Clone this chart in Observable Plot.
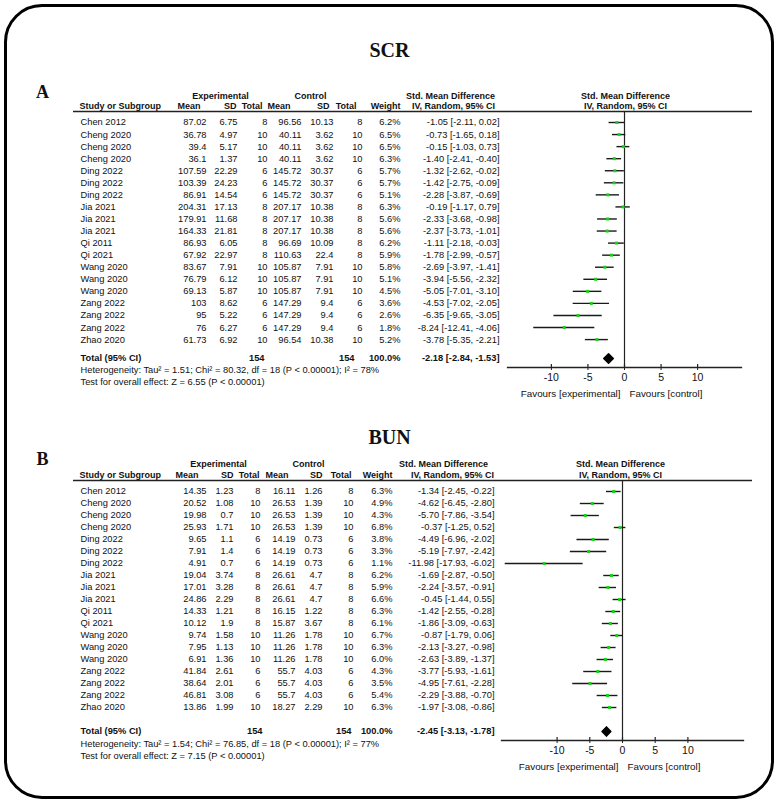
<!DOCTYPE html>
<html><head><meta charset="utf-8">
<script src="https://cdn.jsdelivr.net/npm/d3@7"></script>
<script src="https://cdn.jsdelivr.net/npm/@observablehq/plot@0.6"></script>
<style>
body{margin:0;background:#fff;width:778px;height:803px;overflow:hidden;position:relative;font-family:"Liberation Sans",Arial,sans-serif;}
#frame{position:absolute;left:4px;top:4px;width:764px;height:789px;border:3px solid #000;border-radius:38px;pointer-events:none;}
.panel{position:absolute;left:0;}
.panel svg{display:block;}
</style></head><body>
<div id="pA" class="panel" style="top:0px"></div>
<div id="pB" class="panel" style="top:400px"></div>
<div id="frame"></div>
<script>
// ---------- SCR (panel A) ----------
const studiesA = ["Chen 2012","Cheng 2020","Cheng 2020","Cheng 2020","Ding 2022","Ding 2022","Ding 2022","Jia 2021","Jia 2021","Jia 2021","Qi 2011","Qi 2021","Wang 2020","Wang 2020","Wang 2020","Zang 2022","Zang 2022","Zang 2022","Zhao 2020"];
const expMeanA = [87.02,36.78,39.4,36.1,107.59,103.39,86.91,204.31,179.91,164.33,86.93,67.92,83.67,76.79,69.13,103,95,76,61.73];
const expSDA   = [6.75,4.97,5.17,1.37,22.29,24.23,14.54,17.13,11.68,21.81,6.05,22.97,7.91,6.12,5.87,8.62,5.22,6.27,6.92];
const expNA    = [8,10,10,10,6,6,6,8,8,8,8,8,10,10,10,6,6,6,10];
const ctlMeanA = [96.56,40.11,40.11,40.11,145.72,145.72,145.72,207.17,207.17,207.17,96.69,110.63,105.87,105.87,105.87,147.29,147.29,147.29,96.54];
const ctlSDA   = [10.13,3.62,3.62,3.62,30.37,30.37,30.37,10.38,10.38,10.38,10.09,22.4,7.91,7.91,7.91,9.4,9.4,9.4,10.38];
const ctlNA    = [8,10,10,10,6,6,6,8,8,8,8,8,10,10,10,6,6,6,10];
const weightA  = [6.2,6.5,6.5,6.3,5.7,5.7,5.1,6.3,5.6,5.6,6.2,5.9,5.8,5.1,4.5,3.6,2.6,1.8,5.2];
const smdA     = [-1.05,-0.73,-0.15,-1.40,-1.32,-1.42,-2.28,-0.19,-2.33,-2.37,-1.11,-1.78,-2.69,-3.94,-5.05,-4.53,-6.35,-8.24,-3.78];
const lowA     = [-2.11,-1.65,-1.03,-2.41,-2.62,-2.75,-3.87,-1.17,-3.68,-3.73,-2.18,-2.99,-3.97,-5.56,-7.01,-7.02,-9.65,-12.41,-5.35];
const highA    = [0.02,0.18,0.73,-0.40,-0.02,-0.09,-0.69,0.79,-0.98,-1.01,-0.03,-0.57,-1.41,-2.32,-3.10,-2.05,-3.05,-4.06,-2.21];
const totalA   = [-2.18,-2.84,-1.53];
const totalNA  = [154,154];
const totalWA  = 100.0;
const hetA  = "Heterogeneity: Tau\u00b2 = 1.51; Chi\u00b2 = 80.32, df = 18 (P < 0.00001); I\u00b2 = 78%";
const testA = "Test for overall effect: Z = 6.55 (P < 0.00001)";

// ---------- BUN (panel B) ----------
const studiesB = ["Chen 2012","Cheng 2020","Cheng 2020","Cheng 2020","Ding 2022","Ding 2022","Ding 2022","Jia 2021","Jia 2021","Jia 2021","Qi 2011","Qi 2021","Wang 2020","Wang 2020","Wang 2020","Zang 2022","Zang 2022","Zang 2022","Zhao 2020"];
const expMeanB = [14.35,20.52,19.98,25.93,9.65,7.91,4.91,19.04,17.01,24.86,14.33,10.12,9.74,7.95,6.91,41.84,38.64,46.81,13.86];
const expSDB   = [1.23,1.08,0.7,1.71,1.1,1.4,0.7,3.74,3.28,2.29,1.21,1.9,1.58,1.13,1.36,2.61,2.01,3.08,1.99];
const expNB    = [8,10,10,10,6,6,6,8,8,8,8,8,10,10,10,6,6,6,10];
const ctlMeanB = [16.11,26.53,26.53,26.53,14.19,14.19,14.19,26.61,26.61,26.61,16.15,15.87,11.26,11.26,11.26,55.7,55.7,55.7,18.27];
const ctlSDB   = [1.26,1.39,1.39,1.39,0.73,0.73,0.73,4.7,4.7,4.7,1.22,3.67,1.78,1.78,1.78,4.03,4.03,4.03,2.29];
const ctlNB    = [8,10,10,10,6,6,6,8,8,8,8,8,10,10,10,6,6,6,10];
const weightB  = [6.3,4.9,4.3,6.8,3.8,3.3,1.1,6.2,5.9,6.6,6.3,6.1,6.7,6.3,6.0,4.3,3.5,5.4,6.3];
const smdB     = [-1.34,-4.62,-5.70,-0.37,-4.49,-5.19,-11.98,-1.69,-2.24,-0.45,-1.42,-1.86,-0.87,-2.13,-2.63,-3.77,-4.95,-2.29,-1.97];
const lowB     = [-2.45,-6.45,-7.86,-1.25,-6.96,-7.97,-17.93,-2.87,-3.57,-1.44,-2.55,-3.09,-1.79,-3.27,-3.89,-5.93,-7.61,-3.88,-3.08];
const highB    = [-0.22,-2.80,-3.54,0.52,-2.02,-2.42,-6.02,-0.50,-0.91,0.55,-0.28,-0.63,0.06,-0.98,-1.37,-1.61,-2.28,-0.70,-0.86];
const totalB   = [-2.45,-3.13,-1.78];
const totalNB  = [154,154];
const totalWB  = 100.0;
const hetB  = "Heterogeneity: Tau\u00b2 = 1.54; Chi\u00b2 = 76.85, df = 18 (P < 0.00001); I\u00b2 = 77%";
const testB = "Test for overall effect: Z = 7.15 (P < 0.00001)";

const axisTicks = [-10,-5,0,5,10];
const FS = 9.3;
const HFS = 9.0;
const SANS = "Liberation Sans, Arial, sans-serif";
const SERIF = "Liberation Serif, Times New Roman, serif";
const INK = "#111";

function panel(d, L) {
  const n = d.study.length;
  const rows = d3.range(n).map(i => ({i, study: d.study[i], em: d.em[i], es: d.es[i], en: d.en[i],
    cm: d.cm[i], cs: d.cs[i], cn: d.cn[i], w: d.w[i], smd: d.smd[i], lo: d.lo[i], hi: d.hi[i]}));
  const top = L.top;
  const y0 = L.rowTop - top;
  const y1 = y0 + (n - 1) * L.rowStep;
  const ry = px => (px - top - y0) / L.rowStep;   // page pixel -> row units
  const ml = L.x0, mr = 778 - L.x1;
  const c = L.col, h = L.hdr;
  const f2 = v => v.toFixed(2);
  const one = (s, px, ypx, anchor, bold, size, family) => Plot.text([s], {
    text: v => v, y: () => ry(ypx), frameAnchor: "left", dx: px - ml, textAnchor: anchor,
    fontWeight: bold ? "bold" : "normal", fontSize: size || FS, fontFamily: family || SANS, fill: INK});
  const hd = (s, px, ypx, anchor) => one(s, px, ypx, anchor, true, HFS);
  const col = (acc, px, anchor = "end") => Plot.text(rows, {
    y: "i", text: acc, frameAnchor: "left", dx: px - ml, textAnchor: anchor, fontSize: FS, fill: INK});
  const [te, tl, th] = d.total;
  const ty = ry(L.totalY);
  const dh = 4.6 / L.rowStep;
  const diamond = [{x: tl, y: ty}, {x: te, y: ty - dh}, {x: th, y: ty}, {x: te, y: ty + dh}];

  return Plot.plot({
    width: 778, height: L.height,
    marginLeft: ml, marginRight: mr, marginTop: 10, marginBottom: L.height - (L.axisY - top),
    style: {fontFamily: SANS, background: "transparent", color: INK},
    x: {domain: L.xDomain, axis: null},
    y: {type: "linear", domain: [0, n - 1], range: [y0, y1], axis: null},
    marks: [
      one(d.title, 389, L.titleY, "middle", true, 20, SERIF),
      one(d.letter, 42, L.letterY, "middle", true, 18, SERIF),
      // header row 1
      hd("Experimental", h.exp, L.h1Y, "middle"),
      hd("Control", h.ctl, L.h1Y, "middle"),
      hd("Std. Mean Difference", h.smd, L.h1Y, "middle"),
      hd("Std. Mean Difference", h.forest, L.h1Y, "middle"),
      // header row 2
      hd("Study or Subgroup", c.study - 1, L.h2Y, "start"),
      hd("Mean", h.em, L.h2Y, "end"),
      hd("SD", h.es, L.h2Y, "end"),
      hd("Total", h.en, L.h2Y, "end"),
      hd("Mean", h.cm, L.h2Y, "end"),
      hd("SD", h.cs, L.h2Y, "end"),
      hd("Total", h.cn, L.h2Y, "end"),
      hd("Weight", h.w, L.h2Y, "end"),
      hd("IV, Random, 95% CI", h.ci, L.h2Y, "middle"),
      hd("IV, Random, 95% CI", h.forest, L.h2Y, "middle"),
      Plot.ruleY([0], {y: () => ry(L.lineY), insetLeft: -(ml - L.lineL), insetRight: -(L.lineR - L.x1), stroke: "#222", strokeWidth: 1.3}),
      // table body
      col("study", c.study, "start"),
      col(r => String(r.em), c.em),
      col(r => String(r.es), c.es),
      col(r => String(r.en), c.en),
      col(r => String(r.cm), c.cm),
      col(r => String(r.cs), c.cs),
      col(r => String(r.cn), c.cn),
      col(r => r.w.toFixed(1) + "%", c.w),
      col(r => `${f2(r.smd)} [${f2(r.lo)}, ${f2(r.hi)}]`, c.ci),
      // total row
      one("Total (95% CI)", c.study, L.totalY, "start", true),
      one(String(d.totalN[0]), L.tot.en, L.totalY, "end", true),
      one(String(d.totalN[1]), L.tot.cn, L.totalY, "end", true),
      one(d.totalW.toFixed(1) + "%", c.w, L.totalY, "end", true),
      one(`${f2(te)} [${f2(tl)}, ${f2(th)}]`, c.ci, L.totalY, "end", true),
      one(d.het, c.study, L.hetY, "start", false),
      one(d.test, c.study, L.testY, "start", false),
      // forest
      Plot.ruleX([0], {y1: ry(L.lineY), y2: ry(L.axisY), stroke: "#222", strokeWidth: 1.2}),
      Plot.ruleY(rows, {y: "i", x1: "lo", x2: "hi", stroke: "#1a1a1a", strokeWidth: 1.4}),
      Plot.dot(rows, {x: "smd", y: "i", symbol: "square", r: 1.7, fill: "#19d119", stroke: null}),
      Plot.line(diamond, {x: "x", y: "y", fill: "#000", stroke: "#000", curve: "linear-closed"}),
      Plot.frame({anchor: "bottom", stroke: "#222", strokeWidth: 1.3}),
      Plot.ruleX(axisTicks, {y1: ry(L.axisY - 3), y2: ry(L.axisY), stroke: "#222", strokeWidth: 1.2}),
      Plot.axisX({ticks: axisTicks, tickFormat: v => String(v), tickSize: 3, tickPadding: 3, label: null, fontSize: 10.5, stroke: "#222"}),
      Plot.text([0], {x: 0, y: () => ry(L.favY), text: () => "Favours [experimental]", textAnchor: "end", dx: -4, fontSize: FS + 0.5, fill: INK}),
      Plot.text([0], {x: 0, y: () => ry(L.favY), text: () => "Favours [control]", textAnchor: "start", dx: 5, fontSize: FS + 0.5, fill: INK})
    ]
  });
}

const dataA = {title: "SCR", letter: "A", study: studiesA, em: expMeanA, es: expSDA, en: expNA, cm: ctlMeanA, cs: ctlSDA, cn: ctlNA,
  w: weightA, smd: smdA, lo: lowA, hi: highA, total: totalA, totalN: totalNA, totalW: totalWA, het: hetA, test: testA};
const dataB = {title: "BUN", letter: "B", study: studiesB, em: expMeanB, es: expSDB, en: expNB, cm: ctlMeanB, cs: ctlSDB, cn: ctlNB,
  w: weightB, smd: smdB, lo: lowB, hi: highB, total: totalB, totalN: totalNB, totalW: totalWB, het: hetB, test: testB};

const layoutA = {top: 0, height: 400, x0: 507, x1: 741, xDomain: [-16, 16],
  rowTop: 122, rowStep: 12.06, titleY: 50, letterY: 92, h1Y: 96, h2Y: 106, lineY: 111,
  totalY: 358, hetY: 370, testY: 382, axisY: 367, favY: 393, lineL: 73, lineR: 752,
  col: {study: 80, em: 206, es: 237, en: 267, cm: 301, cs: 333, cn: 362, w: 400, ci: 499},
  tot: {en: 264, cn: 354},
  hdr: {exp: 220, ctl: 310, smd: 450, forest: 625, em: 200, es: 236, en: 262, cm: 290, cs: 329, cn: 356, w: 400, ci: 453}};
const layoutB = {top: 400, height: 403, x0: 501, x1: 743, xDomain: [-18.5, 18.5],
  rowTop: 491, rowStep: 12.0, titleY: 437, letterY: 459, h1Y: 464, h2Y: 475, lineY: 480,
  totalY: 731, hetY: 744, testY: 756, axisY: 740, favY: 766, lineL: 73, lineR: 752,
  col: {study: 80, em: 206, es: 233, en: 260, cm: 295, cs: 322, cn: 353, w: 392, ci: 494},
  tot: {en: 262, cn: 351},
  hdr: {exp: 218, ctl: 308, smd: 443, forest: 620, em: 198, es: 233, en: 259, cm: 288, cs: 322, cn: 351, w: 392, ci: 452}};

document.getElementById("pA").appendChild(panel(dataA, layoutA));
document.getElementById("pB").appendChild(panel(dataB, layoutB));
</script></body></html>
